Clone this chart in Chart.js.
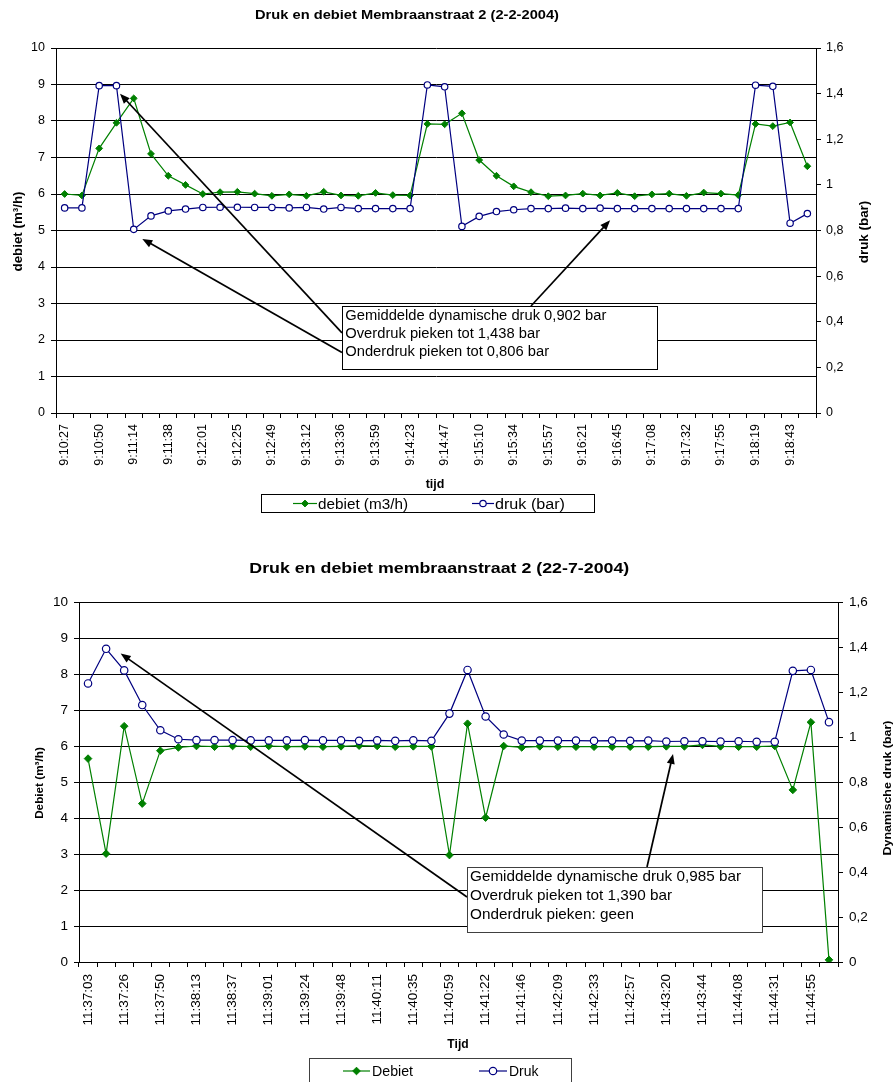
<!DOCTYPE html>
<html><head><meta charset="utf-8">
<script src="https://cdn.jsdelivr.net/npm/chart.js@4/dist/chart.umd.min.js"></script>
<style>
html,body{margin:0;padding:0;background:#fff;}
body{width:895px;height:1082px;position:relative;overflow:hidden;}
canvas{position:absolute;left:0;}
#c1{top:0;} #c2{top:540px;}
</style></head><body>
<canvas id="c1" width="895" height="530"></canvas>
<canvas id="c2" width="895" height="542"></canvas>
<script>
// ---------- data: chart 1 (2-2-2004) ----------
const tijd1 = ['9:10:27','9:10:39','9:10:50','9:11:02','9:11:14','9:11:26','9:11:38','9:11:50','9:12:01','9:12:13',
  '9:12:25','9:12:37','9:12:49','9:13:00','9:13:12','9:13:24','9:13:36','9:13:47','9:13:59','9:14:11',
  '9:14:23','9:14:35','9:14:47','9:14:58','9:15:10','9:15:22','9:15:34','9:15:46','9:15:57','9:16:09',
  '9:16:21','9:16:33','9:16:45','9:16:56','9:17:08','9:17:20','9:17:32','9:17:44','9:17:55','9:18:07',
  '9:18:19','9:18:31','9:18:43','9:18:55'];
const debiet1 = [6.00,5.96,7.25,7.95,8.62,7.10,6.50,6.25,6.00,6.05,6.06,6.01,5.95,5.99,5.95,6.06,5.96,5.95,6.03,5.97,
  5.96,7.92,7.91,8.21,6.93,6.50,6.21,6.05,5.94,5.96,6.01,5.96,6.03,5.94,5.99,6.01,5.95,6.04,6.01,5.97,
  7.92,7.86,7.96,6.76];
const druk1 = [0.899,0.899,1.435,1.435,0.805,0.864,0.886,0.894,0.901,0.902,0.902,0.901,0.901,0.899,0.901,0.894,0.901,0.896,0.896,0.896,
  0.896,1.438,1.430,0.818,0.862,0.883,0.891,0.896,0.896,0.898,0.896,0.898,0.896,0.896,0.896,0.896,0.896,0.896,0.896,0.896,
  1.437,1.432,0.832,0.874];
const noteLines1 = ['Gemiddelde dynamische druk 0,902 bar','Overdruk pieken tot 1,438 bar','Onderdruk pieken tot 0,806 bar'];

// ---------- data: chart 2 (22-7-2004) ----------
const tijd2 = ['11:37:03','11:37:15','11:37:26','11:37:38','11:37:50','11:38:02','11:38:13','11:38:25','11:38:37','11:38:49',
  '11:39:01','11:39:13','11:39:24','11:39:36','11:39:48','11:40:00','11:40:11','11:40:23','11:40:35','11:40:47',
  '11:40:59','11:41:11','11:41:22','11:41:34','11:41:46','11:41:58','11:42:09','11:42:21','11:42:33','11:42:45',
  '11:42:57','11:43:09','11:43:20','11:43:32','11:43:44','11:43:56','11:44:08','11:44:20','11:44:31','11:44:43',
  '11:44:55','11:45:07'];
const debiet2 = [5.65,3.01,6.55,4.40,5.87,5.96,6.00,5.98,6.00,5.98,6.00,5.98,5.99,5.98,5.99,6.01,6.00,5.98,5.99,5.99,
  2.97,6.62,4.01,6.00,5.96,5.99,5.98,5.98,5.98,5.98,5.98,5.98,5.99,5.99,6.03,5.99,5.98,5.98,6.00,4.78,
  6.66,0.06];
const druk2 = [1.238,1.392,1.296,1.142,1.030,0.990,0.986,0.986,0.986,0.985,0.985,0.985,0.986,0.985,0.985,0.983,0.985,0.983,0.985,0.983,
  1.104,1.298,1.091,1.011,0.984,0.984,0.984,0.984,0.983,0.984,0.983,0.984,0.980,0.981,0.981,0.980,0.981,0.979,0.979,1.294,
  1.298,1.066];
const noteLines2 = ['Gemiddelde dynamische druk 0,985 bar','Overdruk pieken tot 1,390 bar','Onderdruk pieken: geen'];

// ---------- helpers ----------
const FONT = "'Liberation Sans', Arial, Helvetica, sans-serif";
const fmtBar = v => String(Math.round(v * 10) / 10).replace('.', ',');

function txt(ctx, s, x, y, o) {
  ctx.save();
  ctx.font = (o.bold ? 'bold ' : '') + o.size + 'px ' + FONT;
  ctx.fillStyle = o.color || '#000';
  ctx.textBaseline = 'alphabetic';
  ctx.textAlign = 'left';
  ctx.translate(x, y);
  if (o.rot) ctx.rotate(o.rot);
  const w = ctx.measureText(s).width;
  const sx = o.width ? o.width / w : (o.sx || 1);
  ctx.scale(sx, 1);
  const ax = o.align === 'center' ? -w / 2 : (o.align === 'right' ? -w : 0);
  ctx.fillText(s, ax, 0);
  ctx.restore();
  return w;
}

function arrow(ctx, x0, y0, x1, y1) {
  const a = Math.atan2(y1 - y0, x1 - x0), L = 10, H = 4;
  ctx.beginPath();
  ctx.moveTo(x0, y0);
  ctx.lineTo(x1 - Math.cos(a) * (L - 2), y1 - Math.sin(a) * (L - 2));
  ctx.stroke();
  ctx.beginPath();
  ctx.moveTo(x1, y1);
  ctx.lineTo(x1 - Math.cos(a) * L - Math.sin(a) * H, y1 - Math.sin(a) * L + Math.cos(a) * H);
  ctx.lineTo(x1 - Math.cos(a) * L + Math.sin(a) * H, y1 - Math.sin(a) * L - Math.cos(a) * H);
  ctx.closePath();
  ctx.fill();
}

function makeDecor(cfg) {
  return {
    id: 'decor',
    afterDraw(chart) {
      const ctx = chart.ctx, xs = chart.scales.x, ys = chart.scales.y;
      // annotation: arrows + text box
      const N = cfg.note;
      const bx = Math.round(xs.getPixelForValue(N.idx)), by = Math.round(ys.getPixelForValue(N.val));
      ctx.save();
      ctx.strokeStyle = '#000'; ctx.fillStyle = '#000'; ctx.lineWidth = 1.7;
      N.arrows.forEach(a => arrow(ctx, bx + a.dx, by + a.dy, xs.getPixelForValue(a.idx), ys.getPixelForValue(a.val)));
      ctx.fillStyle = '#fff';
      ctx.fillRect(bx, by, N.w, N.h);
      ctx.strokeStyle = N.border; ctx.lineWidth = 1;
      ctx.strokeRect(bx + 0.5, by + 0.5, N.w, N.h);
      ctx.restore();
      ctx.save();
      ctx.font = N.size + 'px ' + FONT;
      const sx = N.width1 / ctx.measureText(N.lines[0]).width;
      ctx.restore();
      N.lines.forEach((s, i) => txt(ctx, s, bx + N.dx, by + N.base + i * N.lineH, {size: N.size, sx: sx}));
      // texts (titles)
      cfg.texts.forEach(t => txt(ctx, t.s, t.x, t.y, t));
      // legend
      const L = cfg.legend;
      ctx.save();
      ctx.fillStyle = '#fff';
      ctx.fillRect(L.x0, L.y0, L.x1 - L.x0, L.y1 - L.y0);
      ctx.strokeStyle = L.border; ctx.lineWidth = 1;
      ctx.strokeRect(L.x0 + 0.5, L.y0 + 0.5, L.x1 - L.x0, L.y1 - L.y0);
      L.items.forEach((it, i) => {
        const ds = chart.data.datasets[i];
        ctx.strokeStyle = ds.borderColor; ctx.lineWidth = ds.borderWidth;
        ctx.beginPath(); ctx.moveTo(it.sx0, L.ly); ctx.lineTo(it.sx1, L.ly); ctx.stroke();
        ctx.fillStyle = ds.pointBackgroundColor; ctx.strokeStyle = ds.pointBorderColor; ctx.lineWidth = ds.pointBorderWidth;
        Chart.helpers.drawPoint(ctx, {pointStyle: ds.pointStyle, radius: ds.pointRadius, borderWidth: ds.pointBorderWidth, rotation: 0},
          (it.sx0 + it.sx1) / 2, L.ly);
        txt(ctx, ds.label, it.tx, L.ty, {size: L.size, width: it.tw});
      });
      ctx.restore();
    }
  };
}

function buildChart(id, o) {
  const tickFont = {family: FONT, size: o.tickSize};
  return new Chart(document.getElementById(id), {
    type: 'line',
    data: {
      labels: o.cats,
      datasets: [
        {label: o.labels[0], data: o.deb, yAxisID: 'y', order: 1,
         borderColor: '#008000', backgroundColor: '#008000', borderWidth: 1.2,
         pointStyle: 'rectRot', pointRadius: o.rDia, pointBackgroundColor: '#008000', pointBorderColor: '#008000', pointBorderWidth: 1,
         tension: 0, fill: false},
        {label: o.labels[1], data: o.dr, yAxisID: 'y1', order: 0,
         borderColor: '#000080', backgroundColor: '#ffffff', borderWidth: 1.2,
         pointStyle: 'circle', pointRadius: o.rCirc, pointBackgroundColor: '#ffffff', pointBorderColor: '#000080', pointBorderWidth: 1.2,
         tension: 0, fill: false}
      ]
    },
    options: {
      responsive: false, animation: false, devicePixelRatio: 1, events: [],
      layout: {padding: {top: o.top, left: 0, right: 0, bottom: 0}},
      plugins: {legend: {display: false}, title: {display: false}, tooltip: {enabled: false}},
      scales: {
        x: {
          type: 'category', offset: true,
          grid: {offset: true, drawOnChartArea: false, drawTicks: true, tickLength: 5, color: '#000', lineWidth: 1},
          border: {display: true, color: '#000', width: 1},
          ticks: {autoSkip: false, minRotation: 90, maxRotation: 90, padding: o.xPad, color: '#000', font: tickFont,
                  callback: function (v, i) { return i % 2 === 0 ? o.cats[i] : ''; }},
          afterFit: s => { s.height = o.xH; }
        },
        y: {
          position: 'left', min: 0, max: 10,
          ticks: {stepSize: 1, padding: o.yPad, color: '#000', font: tickFont},
          grid: {color: '#000', lineWidth: 1, tickLength: 5, drawTicks: true},
          border: {display: true, color: '#000', width: 1},
          afterFit: s => { s.width = o.yW; }
        },
        y1: {
          position: 'right', min: 0, max: 1.6,
          ticks: {stepSize: 0.2, padding: o.y1Pad, color: '#000', font: tickFont, callback: v => fmtBar(v)},
          grid: {drawOnChartArea: false, color: '#000', lineWidth: 1, tickLength: 5, drawTicks: true},
          border: {display: true, color: '#000', width: 1},
          afterFit: s => { s.width = o.y1W; }
        }
      }
    },
    plugins: [makeDecor(o.decor)]
  });
}

// ---------- chart 1 ----------
buildChart('c1', {
  cats: tijd1, deb: debiet1, dr: druk1, labels: ['debiet (m3/h)', 'druk (bar)'],
  tickSize: 12.5, rDia: 3.4, rCirc: 3.2,
  top: 48, xH: 117, yW: 56, y1W: 79, xPad: 6, yPad: 6, y1Pad: 5,
  decor: {
    texts: [
      {s: 'Druk en debiet Membraanstraat 2 (2-2-2004)', x: 407, y: 19, size: 13.5, bold: true, align: 'center', width: 304},
      {s: 'debiet (m\u00b3/h)', x: 21.5, y: 231.5, size: 12.5, bold: true, align: 'center', rot: -Math.PI / 2, width: 80},
      {s: 'druk (bar)', x: 868, y: 232, size: 12.5, bold: true, align: 'center', rot: -Math.PI / 2, width: 62.5},
      {s: 'tijd', x: 435, y: 487.5, size: 12.5, bold: true, align: 'center', width: 18.7}
    ],
    legend: {x0: 261, y0: 494, x1: 594, y1: 512, border: '#000', ly: 503.5, ty: 509.3, size: 14,
      items: [{sx0: 293, sx1: 317, tx: 318, tw: 90}, {sx0: 472, sx1: 494, tx: 495, tw: 70}]},
    note: {idx: 16.04, val: 2.92, w: 315, h: 63, border: '#000', size: 14, width1: 261, dx: 3.3, base: 14.3, lineH: 18,
      lines: noteLines1,
      arrows: [{dx: 189, dy: 0, idx: 31.58, val: 5.28}, {dx: 0, dy: 26.8, idx: 3.206, val: 8.75}, {dx: 0, dy: 46.6, idx: 4.497, val: 4.77}]}
  }
});

// ---------- chart 2 ----------
buildChart('c2', {
  cats: tijd2, deb: debiet2, dr: druk2, labels: ['Debiet', 'Druk'],
  tickSize: 13.5, rDia: 3.8, rCirc: 3.7,
  top: 62, xH: 120, yW: 79, y1W: 57, xPad: 7, yPad: 6, y1Pad: 6,
  decor: {
    texts: [
      {s: 'Druk en debiet membraanstraat 2 (22-7-2004)', x: 439.3, y: 32.7, size: 15.5, bold: true, align: 'center', width: 380},
      {s: 'Debiet (m\u00b3/h)', x: 43, y: 243, size: 11, bold: true, align: 'center', rot: -Math.PI / 2, width: 71.7},
      {s: 'Dynamische druk (bar)', x: 891, y: 248, size: 11, bold: true, align: 'center', rot: -Math.PI / 2, width: 135},
      {s: 'Tijd', x: 458, y: 508.3, size: 12, bold: true, align: 'center', width: 21.3}
    ],
    legend: {x0: 309, y0: 518, x1: 571, y1: 560, border: '#404040', ly: 531, ty: 535.7, size: 14,
      items: [{sx0: 343, sx1: 370, tx: 372, tw: 41}, {sx0: 479, sx1: 507, tx: 509, tw: 29.5}]},
    note: {idx: 20.99, val: 2.65, w: 295, h: 65, border: '#404040', size: 14.5, width1: 271, dx: 3, base: 14.3, lineH: 19,
      lines: noteLines2,
      arrows: [{dx: 180, dy: 0, idx: 32.37, val: 5.78}, {dx: 0, dy: 30, idx: 1.806, val: 8.57}]}
  }
});
</script>
</body></html>
